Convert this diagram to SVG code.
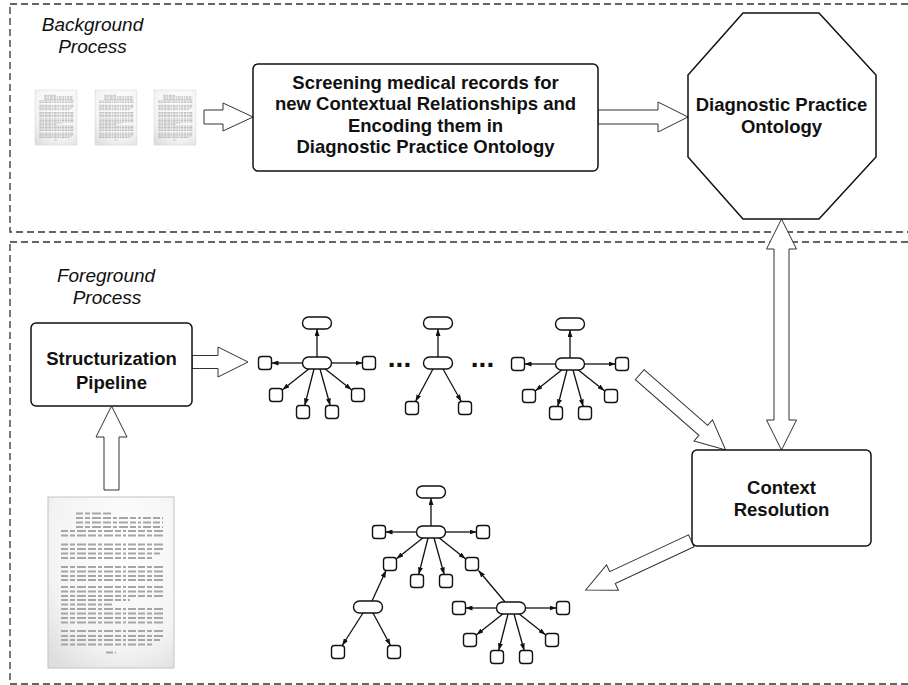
<svg xmlns="http://www.w3.org/2000/svg" xmlns:xlink="http://www.w3.org/1999/xlink" width="908" height="685" viewBox="0 0 908 685">
<style>
.dash{fill:none;stroke:#333;stroke-width:1.3;stroke-dasharray:7 4}
.box{fill:#fff;stroke:#111;stroke-width:1.5}
.harrow{fill:#fff;stroke:#333;stroke-width:1}
.lbl{font-family:"Liberation Sans",Arial,Helvetica,sans-serif;font-weight:bold;font-size:18.5px;text-anchor:middle;fill:#111}
.it{font-family:"Liberation Sans",Arial,Helvetica,sans-serif;font-style:italic;font-size:19px;text-anchor:middle;fill:#111}
.dots{font-family:"Liberation Sans",Arial,sans-serif;font-weight:bold;font-size:28px;text-anchor:middle;fill:#111}
.nd{fill:#fff;stroke:#111;stroke-width:1.4}
.e{fill:none;stroke:#111;stroke-width:1.3;marker-end:url(#ah)}
.w{fill:none;stroke:#a6a6a6;stroke-width:2.2;stroke-dasharray:7 2 5 2 9 2 8 2 4 2 9 2 6 2 3 2 8 2}
</style>
<defs>
<marker id="ah" viewBox="0 0 7 5" refX="7" refY="2.5" markerWidth="7" markerHeight="5" markerUnits="userSpaceOnUse" orient="auto"><path d="M0,0 L7,2.5 L0,5z" fill="#111"/></marker>
<radialGradient id="pg" cx="60%" cy="30%" r="85%"><stop offset="0" stop-color="#ffffff"/><stop offset="0.7" stop-color="#f3f3f3"/><stop offset="1" stop-color="#dedede"/></radialGradient>
<g id="page">
<rect x="0" y="0" width="126" height="171" fill="url(#pg)" stroke="#c4c4c4" stroke-width="1"/>
<path class="w" d="M28,16.5H64M28,21H115M28,25.5H115M28,30H115M13,34H115M13,38.5H115M13,47.5H115M13,52H115M13,56.5H112M13,61H104M13,70H115M13,74.5H115M13,79H115M13,83H115M13,90H115M13,94.5H115M13,99H115M13,103H82M13,107.5H64M13,112H115M13,116.5H115M13,121H115M13,125.5H115M13,134H115M13,139H115M13,143H112M13,147.5H104M58,155.5H68"/>
</g>
<g id="star">
<path class="e" d="M-14.5,0L-45.5,0"/>
<path class="e" d="M14.5,0L45.5,0"/>
<path class="e" d="M-7,5L-34.5,26.8"/>
<path class="e" d="M-3,6L-12.3,42.5"/>
<path class="e" d="M3,6L13.2,42.5"/>
<path class="e" d="M7,5L34.5,26.8"/>
<rect class="nd" x="-14.5" y="-6" width="29" height="12" rx="6"/>
<rect class="nd" x="-58.5" y="-6.5" width="13" height="13" rx="3"/>
<rect class="nd" x="45.5" y="-6.5" width="13" height="13" rx="3"/>
<rect class="nd" x="-47.5" y="25.5" width="13" height="13" rx="3"/>
<rect class="nd" x="-20.5" y="42.5" width="13" height="13" rx="3"/>
<rect class="nd" x="8.5" y="42.5" width="13" height="13" rx="3"/>
<rect class="nd" x="34.5" y="25.5" width="13" height="13" rx="3"/>
</g>
<g id="startop">
<path class="e" d="M0,-6L0,-34"/>
<rect class="nd" x="-14.5" y="-46" width="29" height="12" rx="6"/>
<use xlink:href="#star" href="#star"/>
</g>
</defs>

<g id="background-region">
<rect class="dash" x="10" y="4" width="910" height="228"/>
<text class="it" x="92.5" y="31">Background</text>
<text class="it" x="92.5" y="53">Process</text>
</g>
<g id="foreground-region">
<rect class="dash" x="10" y="242" width="910" height="442"/>
<text class="it" x="106" y="282">Foreground</text>
<text class="it" x="107" y="304">Process</text>
</g>

<g id="connectors">
<polygon class="harrow" points="204,110 223,110 223,103 253,117 223,131 223,124 204,124"/>
<polygon class="harrow" points="598,110 658,110 658,102 688,117 658,132 658,124 598,124"/>
<polygon class="harrow" points="781.5,219 796.5,249 789,249 789,420 796.5,420 781.5,450 766.5,420 774,420 774,249 766.5,249"/>
<polygon class="harrow" points="192,355.5 218,355.5 218,347 248,362 218,377 218,368.5 192,368.5"/>
<polygon class="harrow" points="111.5,406 127,437 119,437 119,490 104,490 104,437 96,437"/>
<polygon class="harrow" transform="translate(639.7,374.7) rotate(41.2)" points="0,-6.6 84.5,-6.6 84.5,-14 114.3,0 84.5,14 84.5,6.6 0,6.6"/>
<polygon class="harrow" transform="translate(691.3,540.8) rotate(155)" points="0,-6.6 87,-6.6 87,-14 116.5,0 87,14 87,6.6 0,6.6"/>
</g>

<g id="records-top">
<use xlink:href="#page" href="#page" transform="translate(35,90) scale(0.333,0.322)"/>
<use xlink:href="#page" href="#page" transform="translate(95,90) scale(0.333,0.322)"/>
<use xlink:href="#page" href="#page" transform="translate(154,90) scale(0.333,0.322)"/>
</g>

<g id="screening">
<rect class="box" x="253" y="64" width="345" height="107" rx="5"/>
<text class="lbl" x="425.5" y="88.5">Screening medical records for</text>
<text class="lbl" x="425.5" y="110">new Contextual Relationships and</text>
<text class="lbl" x="425.5" y="131.5">Encoding them in</text>
<text class="lbl" x="425.5" y="153">Diagnostic Practice Ontology</text>
</g>

<g id="ontology">
<polygon class="box" points="743,13 819,13 876,75 876,157 819,219 743,219 688,157 688,75"/>
<text class="lbl" x="781.5" y="111">Diagnostic Practice</text>
<text class="lbl" x="781.5" y="133">Ontology</text>
</g>

<g id="structurization">
<rect class="box" x="31" y="323" width="161" height="83" rx="5"/>
<text class="lbl" x="111.5" y="365">Structurization</text>
<text class="lbl" x="111.5" y="388.5">Pipeline</text>
</g>

<g id="record-input">
<use xlink:href="#page" href="#page" transform="translate(48,497)"/>
</g>

<g id="context-resolution">
<rect class="box" x="692" y="450" width="179" height="96" rx="5"/>
<text class="lbl" x="781.5" y="493.5">Context</text>
<text class="lbl" x="781.5" y="516">Resolution</text>
</g>

<g id="graph-1">
<use xlink:href="#startop" href="#startop" transform="translate(317,363)"/>
</g>
<text class="dots" x="399.5" y="367">...</text>
<g id="graph-2" transform="translate(438,363)">
<path class="e" d="M0,-6L0,-34"/>
<path class="e" d="M-5,6L-22.5,38.5"/>
<path class="e" d="M5,6L23.3,38.5"/>
<rect class="nd" x="-14.5" y="-46" width="29" height="12" rx="6"/>
<rect class="nd" x="-14.5" y="-6" width="29" height="12" rx="6"/>
<rect class="nd" x="-32.5" y="38.5" width="13" height="13" rx="3"/>
<rect class="nd" x="20.5" y="38.5" width="13" height="13" rx="3"/>
</g>
<text class="dots" x="482.5" y="367">...</text>
<g id="graph-3">
<use xlink:href="#startop" href="#startop" transform="translate(570,364)"/>
</g>

<g id="resolved-graph">
<path class="e" d="M372,601L386,570.5"/>
<path class="e" d="M505,602L478.5,570.5"/>
<path class="e" d="M363,613L342.2,645.5"/>
<path class="e" d="M373,613L390.5,645.5"/>
<use xlink:href="#startop" href="#startop" transform="translate(431,532)"/>
<use xlink:href="#star" href="#star" transform="translate(511,608)"/>
<rect class="nd" x="353.5" y="601" width="29" height="12" rx="6"/>
<rect class="nd" x="331.5" y="645.5" width="13" height="13" rx="3"/>
<rect class="nd" x="387.5" y="645.5" width="13" height="13" rx="3"/>
</g>
</svg>
